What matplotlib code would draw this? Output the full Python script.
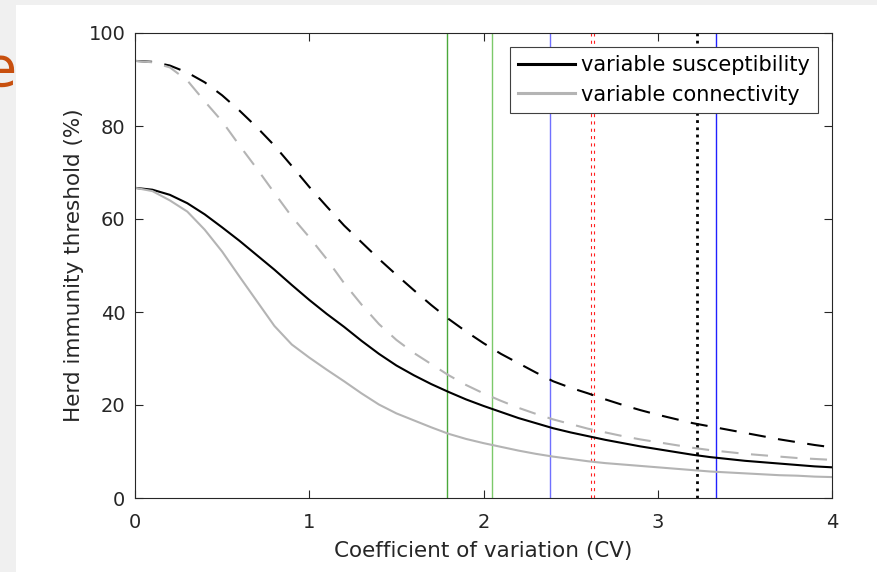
import matplotlib
matplotlib.use("Agg")
import matplotlib.pyplot as plt
from matplotlib.patches import Rectangle

plt.rcParams['font.family'] = ['DejaVu Sans']

# coefficient of variation grid, 0 to 4 in steps of 0.1
cv = [0.0, 0.1, 0.2, 0.3, 0.4, 0.5, 0.6, 0.7, 0.8, 0.9, 1.0,
      1.1, 1.2, 1.3, 1.4, 1.5, 1.6, 1.7, 1.8, 1.9, 2.0,
      2.1, 2.2, 2.3, 2.4, 2.5, 2.6, 2.7, 2.8, 2.9, 3.0,
      3.1, 3.2, 3.3, 3.4, 3.5, 3.6, 3.7, 3.8, 3.9, 4.0]

# herd immunity threshold (%)
susc_low = [66.7, 66.3, 65.2, 63.4, 61.0, 58.2, 55.3, 52.2, 49.1, 45.8, 42.6,
            39.6, 36.8, 33.8, 31.0, 28.5, 26.4, 24.5, 22.8, 21.2, 19.8,
            18.5, 17.2, 16.1, 15.0, 14.1, 13.3, 12.5, 11.8, 11.1, 10.5,
            9.9, 9.3, 8.8, 8.4, 8.0, 7.7, 7.4, 7.1, 6.8, 6.6]
conn_low = [66.7, 66.0, 64.0, 61.6, 57.7, 53.0, 47.6, 42.3, 37.0, 33.0, 30.2,
            27.6, 25.1, 22.5, 20.1, 18.2, 16.7, 15.2, 13.8, 12.7, 11.8,
            11.0, 10.2, 9.5, 8.9, 8.4, 7.9, 7.5, 7.2, 6.9, 6.6,
            6.3, 6.0, 5.7, 5.5, 5.3, 5.1, 4.9, 4.8, 4.6, 4.5]
susc_high = [94.0, 93.8, 93.0, 91.5, 89.4, 86.6, 83.3, 79.7, 75.8, 71.4, 66.9,
             62.7, 58.6, 55.0, 51.4, 48.0, 44.7, 41.5, 38.5, 35.8, 33.3,
             31.0, 29.0, 27.0, 25.1, 23.7, 22.5, 21.2, 20.0, 18.9, 17.9,
             17.0, 16.1, 15.4, 14.7, 14.0, 13.3, 12.6, 12.0, 11.4, 10.9]
conn_high = [94.0, 93.7, 92.6, 89.8, 85.3, 81.0, 75.8, 70.8, 65.6, 60.5, 56.1,
             51.4, 46.2, 41.6, 37.4, 34.0, 31.2, 28.8, 26.4, 24.3, 22.5,
             20.9, 19.4, 18.1, 16.9, 15.9, 14.9, 14.1, 13.3, 12.6, 12.0,
             11.4, 10.8, 10.3, 9.9, 9.5, 9.2, 8.9, 8.6, 8.4, 8.2]

# vertical reference lines (CV values)
green_cv = [1.79, 2.05]
blue_cv = [2.38, 3.335]
red_cv = [2.617, 2.637]
black_cv = 3.225

grey = '#b4b4b4'
dark = '#262626'

fig = plt.figure(figsize=(8.77, 5.72), dpi=100)
fig.patch.set_facecolor('white')
# slide background strips
fig.add_artist(Rectangle((0, 1 - 5/572), 1, 5/572, transform=fig.transFigure,
                         facecolor='#f0f0f0', edgecolor='none'))
fig.add_artist(Rectangle((0, 0), 16/877, 1, transform=fig.transFigure,
                         facecolor='#f0f0f0', edgecolor='none'))
fig.text(0.0, 1 - 86/572, 'e', color='#c8500f', fontsize=40,
         ha='center', va='baseline')

ax = fig.add_axes([135/877, 74/572, 697/877, 465/572])

ax.axvline(green_cv[0], color='#4aa83a', lw=1.0)
ax.axvline(green_cv[1], color='#7cc96a', lw=1.0)
ax.axvline(blue_cv[0], color='#7070ff', lw=1.0)
ax.axvline(blue_cv[1], color='#2020ff', lw=1.0)
for r in red_cv:
    ax.axvline(r, color='#ff2020', lw=0.8, linestyle=(0, (2.8, 3.8)))
ax.axvline(black_cv, color='black', lw=2.0, linestyle=(0, (1, 1.6)))

ax.plot(cv, susc_low, color='black', lw=1.5, label='variable susceptibility')
ax.plot(cv, conn_low, color=grey, lw=1.5, label='variable connectivity')
ax.plot(cv, susc_high, color='black', lw=1.5, dashes=(8.2, 6.0))
ax.plot(cv, conn_high, color=grey, lw=1.5, dashes=(8.2, 6.0))

ax.set_xlim(0, 4)
ax.set_ylim(0, 100)
ax.set_xticks([0, 1, 2, 3, 4])
ax.set_yticks([0, 20, 40, 60, 80, 100])
ax.tick_params(direction='in', length=5.5, top=True, right=True,
               labelsize=14, colors=dark, width=0.8)
ax.tick_params(axis='x', pad=11)
ax.tick_params(axis='y', pad=7)
for s in ax.spines.values():
    s.set_color(dark)
    s.set_linewidth(0.8)

ax.set_xlabel('Coefficient of variation (CV)', fontsize=15.5, color=dark,
              labelpad=6)
ax.set_ylabel('Herd immunity threshold (%)', fontsize=15.5, color=dark,
              labelpad=3)

leg = ax.legend(loc='upper right', fontsize=15, fancybox=False,
                framealpha=1, edgecolor='#404040', handlelength=2.7,
                borderpad=0.4, labelspacing=0.45, handletextpad=0.3,
                borderaxespad=0.67)
leg.get_frame().set_linewidth(0.8)
for h in leg.get_lines():
    h.set_linewidth(2.2)

fig.savefig('out.png', dpi=100)
